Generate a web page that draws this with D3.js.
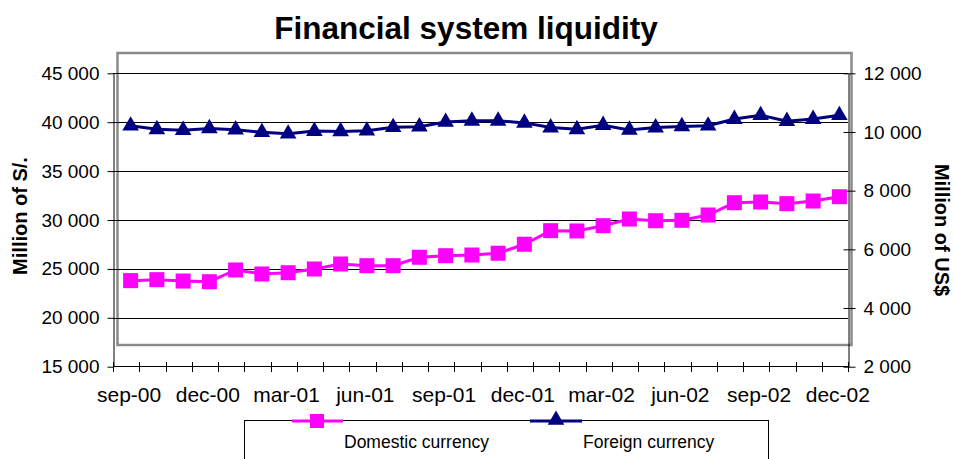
<!DOCTYPE html>
<html>
<head>
<meta charset="utf-8">
<script src="https://cdn.jsdelivr.net/npm/d3@7"></script>
<style>
  body { margin: 0; background: #fff; }
  svg { display: block; font-family: "Liberation Sans", Arial, sans-serif; }
</style>
</head>
<body>
<svg id="chart" width="954" height="459"></svg>
<script>
// monthly categories, sep-00 .. dec-02
const months = ["sep-00","oct-00","nov-00","dec-00","jan-01","feb-01","mar-01","apr-01","may-01","jun-01",
                "jul-01","aug-01","sep-01","oct-01","nov-01","dec-01","jan-02","feb-02","mar-02","apr-02",
                "may-02","jun-02","jul-02","aug-02","sep-02","oct-02","nov-02","dec-02"];

// Domestic currency, million of S/. (left axis)
const domestic = [23800, 23900, 23760, 23690, 24890, 24480, 24610, 24990, 25500, 25330,
                  25330, 26190, 26350, 26420, 26600, 27520, 28910, 28880, 29420, 30100,
                  29930, 29970, 30510, 31770, 31840, 31670, 31940, 32380];

// Foreign currency, million of US$ (right axis)
const foreign = [10210, 10090, 10060, 10120, 10080, 9990, 9940, 10030, 10020, 10040,
                 10160, 10180, 10340, 10380, 10380, 10310, 10150, 10090, 10230, 10070,
                 10150, 10190, 10210, 10440, 10570, 10370, 10440, 10570];

const leftTicks = [15000, 20000, 25000, 30000, 35000, 40000, 45000];
const rightTicks = [2000, 4000, 6000, 8000, 10000, 12000];

const svg = d3.select("#chart");
const fmt = d => d3.format(",")(d).replace(/,/g, " ");

// axes sit a few px off the plot frame, as in the original
const xAxisScale = d3.scaleBand().domain(months).range([113, 848]);
const xPlot = d3.scaleBand().domain(months).range([117.5, 852.5]);
const yL = d3.scaleLinear().domain([15000, 45000]).range([366.7, 73.3]);
const yR = d3.scaleLinear().domain([2000, 12000]).range([366.7, 73.3]);

// title
svg.append("text")
   .attr("x", 466).attr("y", 39)
   .attr("text-anchor", "middle")
   .attr("font-size", 31.5).attr("font-weight", "bold")
   .text("Financial system liquidity");

// plot frame
svg.append("rect")
   .attr("x", 117.5).attr("y", 53)
   .attr("width", 734).attr("height", 292)
   .attr("fill", "none")
   .attr("stroke", "#8a8a8a")
   .attr("stroke-width", 2.5);

// gridlines
svg.append("g").selectAll("line")
   .data(leftTicks.slice(1))
   .join("line")
   .attr("x1", 113).attr("x2", 848)
   .attr("y1", d => Math.round(yL(d)) + 0.5).attr("y2", d => Math.round(yL(d)) + 0.5)
   .attr("stroke", "#000").attr("stroke-width", 1);

// left axis
const gl = svg.append("g")
   .attr("transform", "translate(113.5,0)")
   .call(d3.axisLeft(yL).tickValues(leftTicks).tickFormat(fmt).tickSize(6).tickSizeOuter(0).tickPadding(8));
gl.select(".domain").attr("stroke", "#000");
gl.selectAll("text").attr("font-size", 19).attr("font-family", "Liberation Sans, Arial, sans-serif").attr("fill", "#000");

// right axis (cross ticks)
const gr = svg.append("g")
   .attr("transform", "translate(848.5,0)")
   .call(d3.axisRight(yR).tickValues(rightTicks).tickFormat(fmt).tickSize(7).tickSizeOuter(0).tickPadding(8));
gr.select(".domain").attr("stroke", "#000");
gr.selectAll(".tick line").attr("x1", -5);
gr.selectAll("text").attr("font-size", 19).attr("font-family", "Liberation Sans, Arial, sans-serif").attr("fill", "#000");

// x axis
const xg = svg.append("g");
xg.append("line")
  .attr("x1", 113).attr("x2", 848)
  .attr("y1", 366.5).attr("y2", 366.5)
  .attr("stroke", "#000");
const edges = months.map(m => xAxisScale(m)).concat([xAxisScale.range()[1]]);
xg.selectAll(".xt")
  .data(edges)
  .join("line")
  .attr("class", "xt")
  .attr("x1", d => Math.round(d) + 0.5).attr("x2", d => Math.round(d) + 0.5)
  .attr("y1", 362).attr("y2", 372)
  .attr("stroke", "#000");
xg.selectAll(".xl")
  .data(months.filter((m, i) => i % 3 === 0))
  .join("text")
  .attr("class", "xl")
  .attr("x", d => xPlot(d) + xPlot.bandwidth() / 2 - 1.5)
  .attr("y", 402)
  .attr("text-anchor", "middle")
  .attr("font-size", 21)
  .text(d => d);

// axis titles
svg.append("text")
   .attr("transform", "translate(27,216) rotate(-90)")
   .attr("text-anchor", "middle")
   .attr("font-size", 20).attr("font-weight", "bold")
   .text("Million of S/.");
svg.append("text")
   .attr("transform", "translate(935,230) rotate(90)")
   .attr("text-anchor", "middle")
   .attr("font-size", 20).attr("font-weight", "bold")
   .text("Million of US$");

const cx = d => xPlot(d) + xPlot.bandwidth() / 2;
const magenta = "#ff00ff", navy = "#000080";
const tri = d3.symbol().type(d3.symbolTriangle).size(120);

// domestic series
const domData = months.map((m, i) => ({ m, v: domestic[i] }));
svg.append("path")
   .datum(domData)
   .attr("fill", "none").attr("stroke", magenta).attr("stroke-width", 3)
   .attr("d", d3.line().x(d => cx(d.m)).y(d => yL(d.v)));
svg.append("g").selectAll("rect")
   .data(domData)
   .join("rect")
   .attr("x", d => cx(d.m) - 7.5).attr("y", d => yL(d.v) - 7.5)
   .attr("width", 15).attr("height", 15)
   .attr("fill", magenta);

// foreign series
const forData = months.map((m, i) => ({ m, v: foreign[i] }));
svg.append("path")
   .datum(forData)
   .attr("fill", "none").attr("stroke", navy).attr("stroke-width", 3)
   .attr("d", d3.line().x(d => cx(d.m)).y(d => yR(d.v)));
svg.append("g").selectAll("path")
   .data(forData)
   .join("path")
   .attr("transform", d => `translate(${cx(d.m)},${yR(d.v)})`)
   .attr("d", tri)
   .attr("fill", navy);

// legend
const lg = svg.append("g");
lg.append("rect")
  .attr("x", 244.5).attr("y", 420.5)
  .attr("width", 524).attr("height", 60)
  .attr("fill", "#fff").attr("stroke", "#000");
lg.append("line")
  .attr("x1", 292).attr("x2", 343).attr("y1", 421).attr("y2", 421)
  .attr("stroke", magenta).attr("stroke-width", 3);
lg.append("rect")
  .attr("x", 310).attr("y", 414).attr("width", 14).attr("height", 14)
  .attr("fill", magenta);
lg.append("text")
  .attr("x", 344).attr("y", 448).attr("font-size", 17.5)
  .text("Domestic currency");
lg.append("line")
  .attr("x1", 530).attr("x2", 582).attr("y1", 421).attr("y2", 421)
  .attr("stroke", navy).attr("stroke-width", 3);
lg.append("path")
  .attr("transform", "translate(556,420)")
  .attr("d", tri)
  .attr("fill", navy);
lg.append("text")
  .attr("x", 583).attr("y", 448).attr("font-size", 17.5)
  .text("Foreign currency");
</script>
</body>
</html>
